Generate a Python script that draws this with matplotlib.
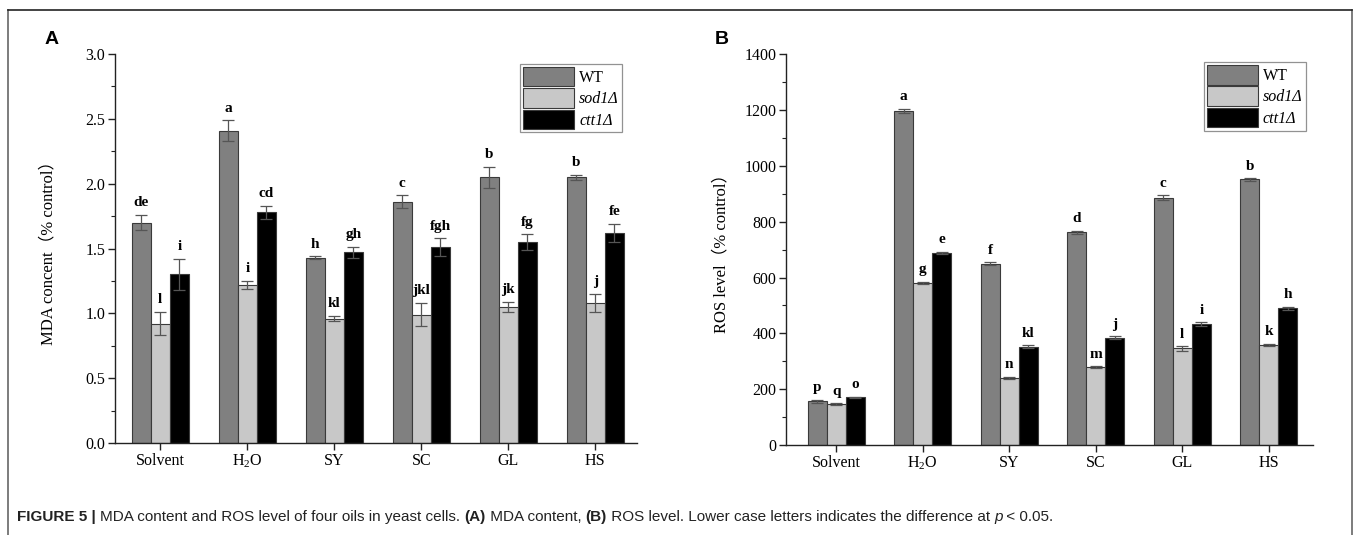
import matplotlib
matplotlib.use("Agg")
import matplotlib.pyplot as plt
import numpy as np
from matplotlib.lines import Line2D

categories = ["Solvent", r"H$_\mathregular{2}$O", "SY", "SC", "GL", "HS"]
series_names = ["WT", "sod1Δ", "ctt1Δ"]

mda_wt = [1.70, 2.41, 1.43, 1.86, 2.05, 2.05]
mda_wt_err = [0.06, 0.08, 0.01, 0.05, 0.08, 0.02]
mda_sod = [0.92, 1.22, 0.96, 0.99, 1.05, 1.08]
mda_sod_err = [0.09, 0.03, 0.02, 0.09, 0.04, 0.07]
mda_ctt = [1.30, 1.78, 1.47, 1.51, 1.55, 1.62]
mda_ctt_err = [0.12, 0.05, 0.045, 0.07, 0.06, 0.07]
mda_letters_wt = ["de", "a", "h", "c", "b", "b"]
mda_letters_sod = ["l", "i", "kl", "jkl", "jk", "j"]
mda_letters_ctt = ["i", "cd", "gh", "fgh", "fg", "fe"]

ros_wt = [157, 1197, 650, 762, 886, 951]
ros_wt_err = [5, 8, 4, 6, 8, 4]
ros_sod = [146, 581, 241, 279, 346, 359]
ros_sod_err = [3, 3, 3, 3, 8, 4]
ros_ctt = [171, 689, 353, 384, 433, 490]
ros_ctt_err = [3, 4, 4, 5, 7, 5]
ros_letters_wt = ["p", "a", "f", "d", "c", "b"]
ros_letters_sod = ["q", "g", "n", "m", "l", "k"]
ros_letters_ctt = ["o", "e", "kl", "j", "i", "h"]

colors = ["#808080", "#c8c8c8", "#000000"]
SERIF = ["Liberation Serif", "Noto Sans CJK SC"]
plt.rcParams["font.family"] = SERIF
plt.rcParams["mathtext.fontset"] = "custom"
plt.rcParams["mathtext.rm"] = "Liberation Serif"
plt.rcParams["mathtext.it"] = "Liberation Serif:italic"
plt.rcParams["mathtext.bf"] = "Liberation Serif:bold"

fig = plt.figure(figsize=(13.58, 5.35), dpi=100)

def panel(rect, vals, errs, letters, ylim, major, minor, ylabel, ytickfmt, legend_anchor, xlim, labelpad):
    ax = fig.add_axes(rect)
    x = np.arange(len(categories))
    w = 0.22
    for i in range(3):
        ax.bar(x + (i - 1) * w, vals[i], w, yerr=errs[i], color=colors[i],
               edgecolor="#3a3a3a", linewidth=0.8, label=series_names[i],
               error_kw=dict(ecolor="#555555", elinewidth=0.9, capsize=4, capthick=0.9), zorder=2)
        for j in range(len(x)):
            ax.annotate(letters[i][j], (x[j] + (i - 1) * w, vals[i][j] + errs[i][j]),
                        xytext=(0, 4), textcoords="offset points", ha="center", va="bottom",
                        fontsize=11, fontweight="bold")
    ax.set_xlim(*xlim)
    ax.set_ylim(*ylim)
    ax.set_yticks(np.arange(ylim[0], ylim[1] + major / 2, major))
    ax.set_yticks(np.arange(ylim[0], ylim[1] + minor / 2, minor), minor=True)
    ax.yaxis.set_major_formatter(plt.FormatStrFormatter(ytickfmt))
    ax.set_xticks(x)
    ax.set_xticklabels(categories)
    for s in ["top", "right"]:
        ax.spines[s].set_visible(False)
    for s in ["left", "bottom"]:
        ax.spines[s].set_linewidth(1.0)
        ax.spines[s].set_color("#222222")
    ax.tick_params(axis="both", which="major", direction="out", length=5, width=1.0,
                   labelsize=11.5, color="#222222", pad=2)
    ax.tick_params(axis="y", which="minor", direction="out", length=3, width=0.8, color="#222222")
    ax.set_ylabel(ylabel, fontsize=12, labelpad=labelpad)
    leg = ax.legend(loc="upper left", bbox_to_anchor=legend_anchor, frameon=True, fancybox=False,
                    edgecolor="#777777", fontsize=11.5, handlelength=3.2, handleheight=1.5,
                    labelspacing=0.12, borderpad=0.2, handletextpad=0.3, borderaxespad=0)
    leg.get_frame().set_linewidth(0.9)
    for t in leg.get_texts()[1:]:
        t.set_fontstyle("italic")
    return ax

axA = panel([0.0847, 0.172, 0.3844, 0.727], [mda_wt, mda_sod, mda_ctt],
            [mda_wt_err, mda_sod_err, mda_ctt_err],
            [mda_letters_wt, mda_letters_sod, mda_letters_ctt],
            (0, 3.0), 0.5, 0.25, "MDA concent（% control）", "%.1f", (0.776, 0.975), (-0.52, 5.48), 21)
axB = panel([0.5788, 0.168, 0.388, 0.731], [ros_wt, ros_sod, ros_ctt],
            [ros_wt_err, ros_sod_err, ros_ctt_err],
            [ros_letters_wt, ros_letters_sod, ros_letters_ctt],
            (0, 1400), 200, 100, "ROS level（% control）", "%d", (0.793, 0.98), (-0.58, 5.51), 11)

# panel letters
fig.text(45 / 1358, 1 - 44 / 535, "A", fontsize=14, fontweight="bold", family="Liberation Sans", ha="left", va="baseline")
fig.text(715 / 1358, 1 - 44 / 535, "B", fontsize=14, fontweight="bold", family="Liberation Sans", ha="left", va="baseline")

# frame
fig.add_artist(Line2D([8 / 1358, 8 / 1358], [0, 1 - 10 / 535], transform=fig.transFigure, color="#666666", lw=1.2))
fig.add_artist(Line2D([1352 / 1358, 1352 / 1358], [0, 1 - 10 / 535], transform=fig.transFigure, color="#666666", lw=1.2))
fig.add_artist(Line2D([8 / 1358, 1352 / 1358], [1 - 10 / 535, 1 - 10 / 535], transform=fig.transFigure, color="#222222", lw=1.2))

# caption built from pieces
pieces = [("FIGURE 5 | ", "bold", "normal"),
          ("MDA content and ROS level of four oils in yeast cells. ", "normal", "normal"),
          ("(A)", "bold", "normal"), (" MDA content, ", "normal", "normal"),
          ("(B)", "bold", "normal"), (" ROS level. Lower case letters indicates the difference at ", "normal", "normal"),
          ("p", "normal", "italic"), (" < 0.05.", "normal", "normal")]
fig.canvas.draw()
renderer = fig.canvas.get_renderer()
xpos = 17
ypix = 521
for txt, wgt, sty in pieces:
    t = fig.text(xpos / 1358, 1 - ypix / 535, txt, fontsize=11, fontweight=wgt, fontstyle=sty,
                 family="Liberation Sans", color="#222222", ha="left", va="baseline")
    bb = t.get_window_extent(renderer)
    xpos += bb.width

fig.savefig("out.png", dpi=100)
